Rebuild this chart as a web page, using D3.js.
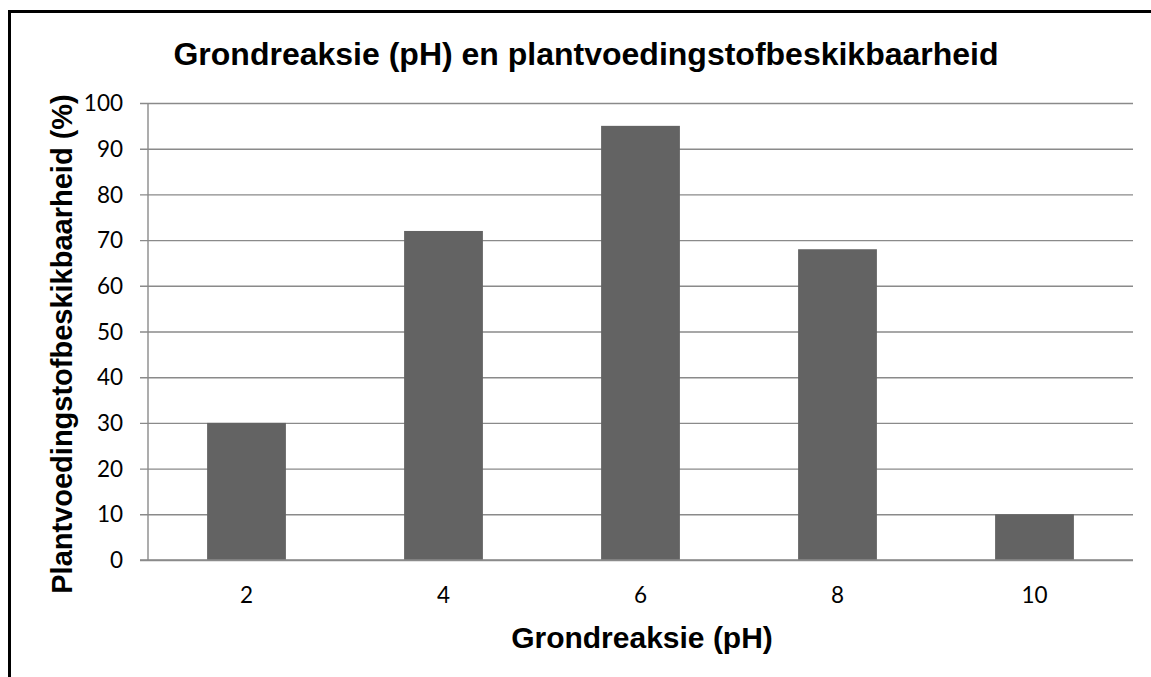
<!DOCTYPE html>
<html>
<head>
<meta charset="utf-8">
<script src="https://cdnjs.cloudflare.com/ajax/libs/d3/7.8.5/d3.min.js"></script>
<style>
  html, body { margin: 0; padding: 0; background: #fff; overflow: hidden; }
  svg { display: block; }
</style>
</head>
<body>
<div id="chart"></div>
<script>
// === DATA ===
const categories = ['2', '4', '6', '8', '10']
const values = [30, 72, 95, 68, 10]
const yTicks = [0, 10, 20, 30, 40, 50, 60, 70, 80, 90, 100]

const titleText = 'Grondreaksie (pH) en plantvoedingstofbeskikbaarheid'
const xTitle = 'Grondreaksie (pH)'
const yTitle = 'Plantvoedingstofbeskikbaarheid (%)'

// === LAYOUT ===
const W = 1151, H = 677
const plot = { left: 148, right: 1133, top: 103, bottom: 560 }
const gridColor = '#8a8a8a'
const tickFont = 'Lato, "Open Sans", sans-serif'
const boldFont = '"Liberation Sans", Arial, sans-serif'

const svg = d3.select('#chart')
    .append('svg')
    .attr('width', W)
    .attr('height', H)

// outer frame (runs off the right and bottom edges)
svg.append('rect')
    .attr('x', 9.5).attr('y', 11.5)
    .attr('width', W + 20).attr('height', H + 20)
    .attr('fill', 'none')
    .attr('stroke', '#000')
    .attr('stroke-width', 3)

// === SCALES ===
const x = d3.scaleBand()
    .domain(categories)
    .range([plot.left, plot.right])
    .paddingInner(0.6)
    .paddingOuter(0.3)

const y = d3.scaleLinear()
    .domain([0, 100])
    .range([plot.bottom, plot.top])

// gridlines + left ticks
const yAxis = svg.append('g')
    .attr('transform', `translate(${plot.left},0)`)
    .call(d3.axisLeft(y)
        .tickValues(yTicks)
        .tickSize(-(plot.right - plot.left))
        .tickPadding(0)
        .tickFormat(''))

yAxis.select('.domain').remove()
yAxis.selectAll('.tick line')
    .attr('x1', -8)
    .attr('stroke', gridColor)
    .attr('stroke-width', 1.4)

// tick labels
svg.append('g')
    .selectAll('text')
    .data(yTicks)
    .join('text')
    .attr('x', 123)
    .attr('y', d => y(d))
    .attr('dy', '0.36em')
    .attr('text-anchor', 'end')
    .attr('font-family', tickFont)
    .attr('font-size', 22.5)
    .attr('fill', '#000')
    .text(d => d)

// y axis line
svg.append('line')
    .attr('x1', plot.left).attr('x2', plot.left)
    .attr('y1', plot.top).attr('y2', plot.bottom)
    .attr('stroke', gridColor)
    .attr('stroke-width', 1.4)

// === BARS ===
svg.append('g')
    .selectAll('rect')
    .data(values)
    .join('rect')
    .attr('x', (d, i) => x(categories[i]))
    .attr('width', x.bandwidth())
    .attr('y', d => y(d))
    .attr('height', d => y(0) - y(d))
    .attr('fill', '#636363')

// zero line over bars
svg.append('line')
    .attr('x1', plot.left - 8).attr('x2', plot.right)
    .attr('y1', y(0)).attr('y2', y(0))
    .attr('stroke', gridColor)
    .attr('stroke-width', 1.4)

// x labels
svg.append('g')
    .selectAll('text')
    .data(categories)
    .join('text')
    .attr('x', d => x(d) + x.bandwidth() / 2)
    .attr('y', 603)
    .attr('text-anchor', 'middle')
    .attr('font-family', tickFont)
    .attr('font-size', 22.5)
    .attr('fill', '#000')
    .text(d => d)

// === TITLES ===
svg.append('text')
    .attr('x', 586).attr('y', 65)
    .attr('text-anchor', 'middle')
    .attr('font-family', boldFont)
    .attr('font-weight', 'bold')
    .attr('font-size', 32)
    .text(titleText)

svg.append('text')
    .attr('x', 642).attr('y', 648)
    .attr('text-anchor', 'middle')
    .attr('font-family', boldFont)
    .attr('font-weight', 'bold')
    .attr('font-size', 30)
    .text(xTitle)

svg.append('text')
    .attr('transform', 'translate(72,344) rotate(-90)')
    .attr('text-anchor', 'middle')
    .attr('font-family', boldFont)
    .attr('font-weight', 'bold')
    .attr('font-size', 29)
    .text(yTitle)
</script>
</body>
</html>
